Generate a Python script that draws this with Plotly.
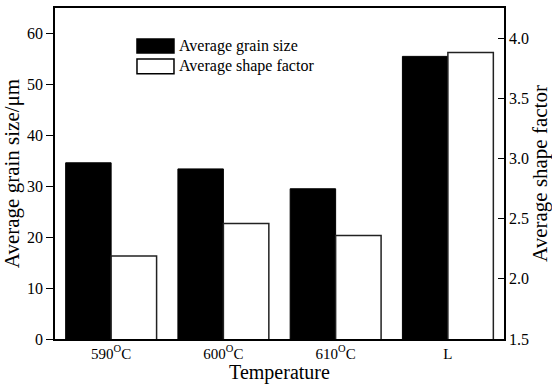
import plotly.graph_objects as go

categories = ["590", "600", "610", "L"]
tick_labels = ["590<sup>O</sup>C", "600<sup>O</sup>C", "610<sup>O</sup>C", "L"]
grain_size = [34.6, 33.4, 29.5, 55.5]
shape_factor = [2.19, 2.46, 2.36, 3.88]

FONT = "Liberation Serif, Times New Roman, serif"

fig = go.Figure()
fig.add_trace(go.Bar(
    x=categories, y=grain_size, name="Average grain size",
    marker=dict(color="black", line=dict(color="black", width=1)),
    offsetgroup="1", yaxis="y", showlegend=False,
))
fig.add_trace(go.Bar(
    x=categories, y=shape_factor, name="Average shape factor",
    marker=dict(color="white", line=dict(color="#222", width=1.5)),
    offsetgroup="2", yaxis="y2", showlegend=False,
))

# manual legend (large swatches like the original)
leg = [("black", "Average grain size", 0.906, 0.864),
       ("white", "Average shape factor", 0.846, 0.801)]
for col, txt, y1, y0 in leg:
    fig.add_shape(type="rect", xref="paper", yref="paper",
                  x0=0.1826, x1=0.265, y0=y0, y1=y1,
                  fillcolor=col, line=dict(color="black", width=1.5))
    fig.add_annotation(xref="paper", yref="paper", x=0.271, y=(y0 + y1) / 2,
                       text=txt, showarrow=False, xanchor="left", yanchor="middle",
                       font=dict(family=FONT, size=16, color="black"))

fig.update_layout(
    width=552, height=384,
    margin=dict(l=55, r=48, t=8, b=45),
    paper_bgcolor="white", plot_bgcolor="white",
    barmode="group", bargap=0.19, bargroupgap=0,
    font=dict(family=FONT, color="black", size=16),
    xaxis=dict(
        tickmode="array", tickvals=categories, ticktext=tick_labels,
        showline=True, linecolor="black", linewidth=1.5, mirror=True,
        ticks="", tickfont=dict(size=15),
        title=dict(text="Temperature", font=dict(size=20), standoff=2),
        automargin=False,
    ),
    yaxis=dict(
        range=[0, 65], tickvals=[0, 10, 20, 30, 40, 50, 60],
        showline=True, linecolor="black", linewidth=1.5,
        ticks="outside", ticklen=7, tickwidth=1.2, tickcolor="black",
        showgrid=False, zeroline=False, tickfont=dict(size=16),
        title=dict(text="Average grain size/μm", font=dict(size=21), standoff=8),
        automargin=False,
    ),
    yaxis2=dict(
        overlaying="y", side="right", range=[1.5, 4.25],
        tickvals=[1.5, 2.0, 2.5, 3.0, 3.5, 4.0], ticktext=["1.5", "2.0", "2.5", "3.0", "3.5", "4.0"],
        showline=True, linecolor="black", linewidth=1.5,
        ticks="inside", ticklen=6, tickwidth=1.2, tickcolor="black",
        showgrid=False, zeroline=False, tickfont=dict(size=16),
        title=dict(text="Average shape factor", font=dict(size=21), standoff=4),
        automargin=False,
    ),
)

fig.write_html("out.html", config={"displayModeBar": False},
               post_script="document.body.style.margin='0';")
